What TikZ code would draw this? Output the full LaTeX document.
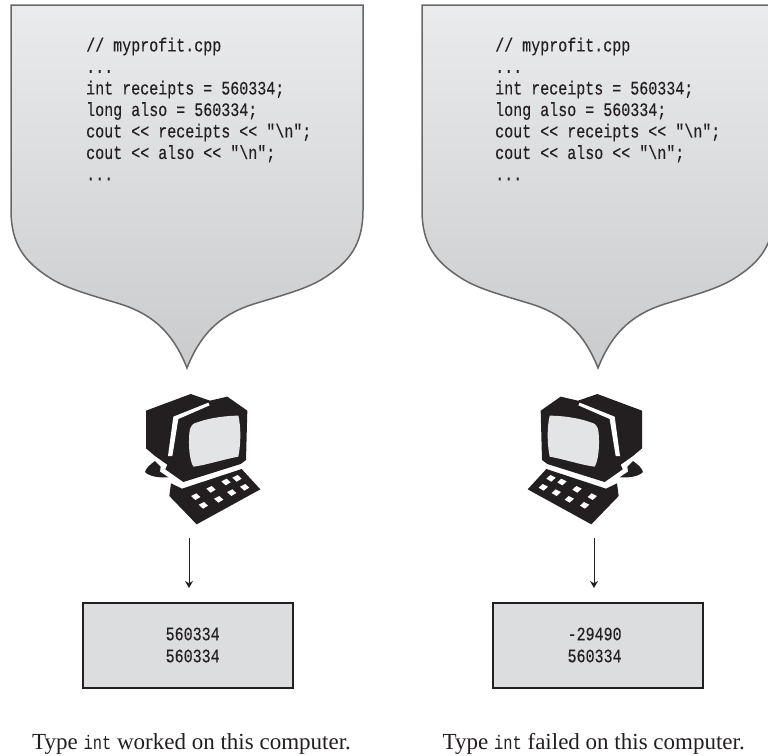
\documentclass[tikz,border=0pt]{standalone}
\usepackage{fontspec}
\setmainfont{Liberation Serif}
\newfontfamily\codefont[FakeStretch=0.79,FakeBold=0.2]{Liberation Mono}
\newfontfamily\capfont[FakeStretch=0.79]{Liberation Mono}
\usetikzlibrary{arrows.meta}
\definecolor{balloonline}{HTML}{666769}
\definecolor{balloontop}{HTML}{EAEBED}
\definecolor{balloonbot}{HTML}{CACBCD}
\definecolor{boxfill}{HTML}{DCDDDF}
\definecolor{screengrey}{HTML}{E3E4E6}
\definecolor{inkblack}{HTML}{231F20}
\tikzset{
  balloon/.style={draw=balloonline,line width=1.5pt,top color=balloontop,bottom color=balloonbot,line join=miter},
  codetext/.style={inner sep=0pt,anchor=north west,align=left,text=inkblack,font=\codefont\fontsize{19}{21.5}\selectfont},
  outbox/.style={draw=inkblack,line width=2pt,fill=boxfill,minimum width=209.5pt,minimum height=85.5pt,inner sep=0pt},
  outtext/.style={inner sep=0pt,align=center,text=inkblack,font=\codefont\fontsize{19}{22}\selectfont},
  caption/.style={inner sep=0pt,anchor=base west,text=inkblack,font=\fontsize{23}{27}\selectfont},
  flow/.style={draw=inkblack,line width=1pt,-{Stealth[length=7pt,width=8pt]}}
}
\newcommand{\capint}{{\capfont\fontsize{19.5}{22}\selectfont int}}
\newcommand{\balloonpath}{
  (0,5) -- (352,5) -- (352,210)
  .. controls (352,245) and (338,262) .. (313,278)
  .. controls (298,287.6) and (278,293.5) .. (246,303)
  .. controls (213,312.8) and (191,330) .. (176,368)
  .. controls (161,330) and (139,312.8) .. (106,303)
  .. controls (74,293.5) and (54,287.6) .. (39,278)
  .. controls (14,262) and (0,245) .. (0,210) -- cycle}
\newcommand{\drawcomputer}{
  \fill[inkblack] (108,122) -- (242,72) -- (300,92) -- (352,80) -- (412,122) -- (408,270) -- (392,282) -- (220,336) -- (166,298) -- (172,284) -- (135,258) -- (108,235) -- cycle;
  \fill[inkblack] (135,273) .. controls (118,285) and (108,295) .. (105,306) .. controls (118,320) and (150,324) .. (175,322) -- (150,305) -- (152,290) -- cycle;
  \fill[inkblack] (183,340) -- (216,356) -- (395,297) -- (451,358) -- (260,463) -- (178,378) -- cycle;
  \fill[white] (174,258) -- (190,140) -- (295,98) -- (299,106) -- (205,147) -- (187,258) -- cycle;
  \fill[screengrey] (238,190) .. controls (240,165) and (250,160) .. (262,157) .. controls (300,143) and (350,137) .. (385,137) .. controls (393,170) and (393,220) .. (385,260) .. controls (340,268) and (290,285) .. (250,290) .. controls (238,270) and (235,225) .. (238,190) -- cycle;
  \foreach \kx/\ky in {257/380,303/358,348/336,381/325,280/406,326/388,365/368,404/352}
    \fill[white,shift={(\kx,\ky)}] (-14,-2) -- (2,-10) -- (14,1) -- (-1,10) -- cycle;
}
\begin{document}
\begin{tikzpicture}[x=1pt,y=-1pt]
\useasboundingbox (0,0) rectangle (768,755);
\fill[white] (0,0) rectangle (768,755);
\begin{scope}
\clip (0,0) rectangle (768,755);
\path[balloon,shift={(11,0)}] \balloonpath;
\path[balloon,shift={(422,0)}] \balloonpath;
\end{scope}
\node[codetext] (codeL) at (86,37.5) {// myprofit.cpp\\...\\int receipts = 560334;\\long also = 560334;\\cout << receipts << "\textbackslash n";\\cout << also << "\textbackslash n";\\...};
\node[codetext] (codeR) at (495,37.5) {// myprofit.cpp\\...\\int receipts = 560334;\\long also = 560334;\\cout << receipts << "\textbackslash n";\\cout << also << "\textbackslash n";\\...};
\begin{scope}[shift={(110,370)},xscale=1/3,yscale=1/3]
\drawcomputer
\end{scope}
\begin{scope}[shift={(678,370)},xscale=-1/3,yscale=1/3]
\drawcomputer
\end{scope}
\node[outbox] (boxL) at (188,645.3) {};
\node[outbox] (boxR) at (598,645.3) {};
\node[outtext] (outL) at (192.7,645) {560334\\560334};
\node[outtext] (outR) at (594.6,645) {-29490\\560334};
\coordinate (startL) at (189,538);
\coordinate (endL) at (189,588);
\coordinate (startR) at (594,538);
\coordinate (endR) at (594,588);
\draw[flow] (startL) -- (endL);
\draw[flow] (startR) -- (endR);
\node[caption] (capL) at (32,749) {Type \capint{} worked on this computer.};
\node[caption] (capR) at (442.5,749) {Type \capint{} failed on this computer.};
\end{tikzpicture}
\end{document}
